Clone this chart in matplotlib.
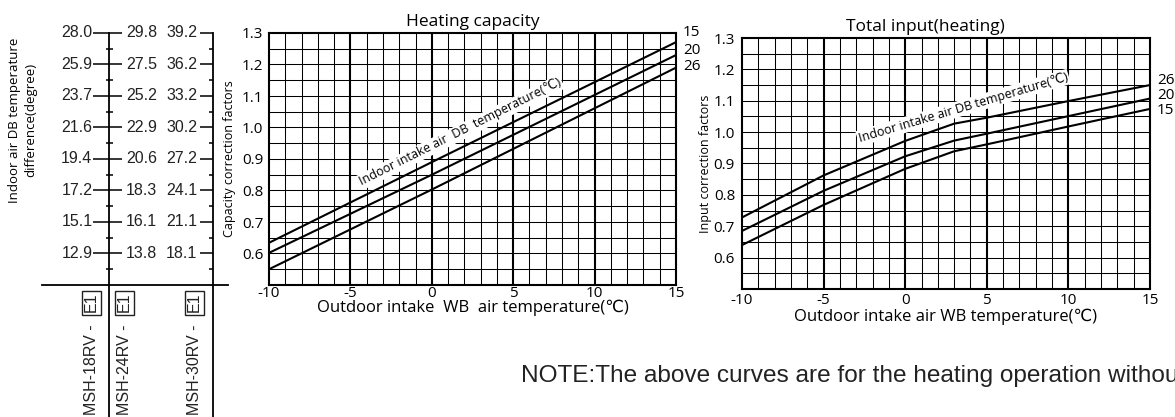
import numpy as np
import matplotlib
matplotlib.use("Agg")
import matplotlib.pyplot as plt
from matplotlib.transforms import blended_transform_factory

plt.rcParams['axes.unicode_minus'] = False

# --- data ---
factors = [1.3, 1.2, 1.1, 1.0, 0.9, 0.8, 0.7, 0.6]
minor_factors = [1.25, 1.15, 1.05, 0.95, 0.85, 0.75, 0.65, 0.55]
diff_18 = ["28.0", "25.9", "23.7", "21.6", "19.4", "17.2", "15.1", "12.9"]
diff_24 = ["29.8", "27.5", "25.2", "22.9", "20.6", "18.3", "16.1", "13.8"]
diff_30 = ["39.2", "36.2", "33.2", "30.2", "27.2", "24.1", "21.1", "18.1"]
models = ["MSH-18RV -", "MSH-24RV -", "MSH-30RV -"]

hc_temp = [-10, 0, 15]
hc_15 = [0.634, 0.890, 1.271]
hc_20 = [0.602, 0.850, 1.230]
hc_26 = [0.550, 0.803, 1.190]
hc_labels = ["15", "20", "26"]

ti_temp = [-10, -5, 0, 3, 5, 10, 15]
ti_26 = [0.728, 0.862, 0.972, 1.027, 1.046, 1.099, 1.150]
ti_20 = [0.685, 0.813, 0.923, 0.973, 0.995, 1.051, 1.107]
ti_15 = [0.640, 0.768, 0.883, 0.939, 0.961, 1.018, 1.074]
ti_labels = ["26", "20", "15"]

hum = ['Open Sans', 'DejaVu Sans']
ari = ['Liberation Sans', 'DejaVu Sans']

W, H = 1175, 417
fig = plt.figure(figsize=(W / 100, H / 100), dpi=100)

pos_hc = [269 / W, (H - 285) / H, 407 / W, 252 / H]
pos_ti = [742 / W, (H - 289) / H, 408 / W, 251 / H]


def grid_chart(ax, temps, curves, labels, label_y):
    ax.set_xlim(-10, 15)
    ax.set_ylim(0.5, 1.3)
    for x in range(-9, 15):
        ax.axvline(x, color='black', lw=1.5 if x % 5 == 0 else 0.75, zorder=1)
    for y in np.arange(0.55, 1.3, 0.05):
        ax.axhline(y, color='black', lw=0.75, zorder=1)
    for c in curves:
        ax.plot(temps, c, color='black', lw=1.5, zorder=3)
    for lbl, y in zip(labels, label_y):
        ax.annotate(lbl, xy=(15, y), xytext=(5, 0), textcoords='offset points',
                    ha='left', va='center', fontsize=11, family=hum,
                    annotation_clip=False)
    ax.set_xticks([-10, -5, 0, 5, 10, 15])
    ax.set_yticks(factors)
    ax.set_yticklabels([f"{v:.1f}" for v in factors])
    ax.tick_params(length=0, labelsize=11)
    for t in ax.get_xticklabels() + ax.get_yticklabels():
        t.set_family(hum)
    for s in ax.spines.values():
        s.set_linewidth(1.5)


# heating capacity
ax1 = fig.add_axes(pos_hc)
grid_chart(ax1, hc_temp, [hc_15, hc_20, hc_26], hc_labels, [1.30, 1.243, 1.195])
ax1.tick_params(axis='x', pad=1)
ax1.tick_params(axis='y', pad=4)
ax1.set_title("Heating capacity", fontsize=12.5, family=hum, pad=5)
ax1.set_xlabel("Outdoor intake  WB  air temperature(\u2103)", fontsize=12,
               family=hum, labelpad=-1)
ax1.set_ylabel("Capacity correction factors", fontsize=9, family=hum, labelpad=4)
ax1.text(1.77, 0.985, "Indoor intake air  DB  temperature(\u2103)", rotation=26.7,
         rotation_mode='anchor', ha='center', va='center', fontsize=9,
         family=hum, zorder=4,
         bbox=dict(facecolor='white', edgecolor='none', pad=1))

# total input
ax2 = fig.add_axes(pos_ti)
grid_chart(ax2, ti_temp, [ti_26, ti_20, ti_15], ti_labels, [1.164, 1.116, 1.068])
ax2.tick_params(axis='x', pad=3)
ax2.tick_params(axis='y', pad=5)
ax2.set_title("Total input(heating)", fontsize=12.5, family=hum, pad=5, x=0.45)
ax2.set_xlabel("Outdoor intake air WB temperature(\u2103)", fontsize=12,
               family=hum, labelpad=0)
ax2.set_ylabel("Input correction factors", fontsize=9, family=hum, labelpad=1)
ax2.text(3.55, 1.078, "Indoor intake air DB temperature(\u2103)", rotation=16.5,
         rotation_mode='anchor', ha='center', va='center', fontsize=9,
         family=hum, zorder=4,
         bbox=dict(facecolor='white', edgecolor='none', pad=1))

# nomogram on the left, sharing the capacity factor scale
b, h = pos_hc[1], pos_hc[3]
v_lo = 0.5 - b / h * 0.8
v_hi = 1.3 + (1 - b - h) / h * 0.8
ax0 = fig.add_axes([0, 0, 230 / W, 1])
ax0.set_xlim(0, 230)
ax0.set_ylim(v_lo, v_hi)
ax0.axis('off')

x1, x2 = 109, 212.5
for xv in (x1, x2):
    ax0.plot([xv, xv], [1.3, v_lo], color='black', lw=1.3, clip_on=False)
ax0.plot([42, 228], [0.5, 0.5], color='black', lw=1.3)
ax0.hlines(factors, x1 - 16, x1 + 13, color='black', lw=1.1)
ax0.hlines(minor_factors, x1 - 3.5, x1 + 3.5, color='black', lw=1.1)
ax0.hlines(factors, x2 - 12.5, x2, color='black', lw=1.1)
ax0.hlines(minor_factors, x2 - 3.5, x2, color='black', lw=1.1)
for v, a, bb, c in zip(factors, diff_18, diff_24, diff_30):
    ax0.text(92.5, v, a, ha='right', va='center', fontsize=11.5, family=ari, color='#222')
    ax0.text(126, v, bb, ha='left', va='center', fontsize=11.5, family=ari, color='#222')
    ax0.text(197, v, c, ha='right', va='center', fontsize=11.5, family=ari, color='#222')

tr = blended_transform_factory(ax0.transData, fig.transFigure)
for xm, m in zip([91.5, 124.5, 194.5], models):
    ax0.text(xm, 2 / H, m, rotation=90, ha='center', va='bottom', fontsize=11.5,
             family=ari, color='#222', transform=tr)
    ax0.text(xm, (H - 293) / H, "E1", rotation=90, ha='center', va='top',
             fontsize=11.5, family=ari, color='#222', transform=tr,
             bbox=dict(boxstyle='square,pad=0.15', facecolor='white',
                       edgecolor='#222', lw=1))

fig.text(23 / W, 1 - 120 / H, "Indoor air DB temperature\ndifference(degree)",
         rotation=90, ha='center', va='center', fontsize=9.5, family=hum,
         linespacing=1.3)

fig.text(521 / W, (H - 382) / H,
         "NOTE:The above curves are for the heating operation without",
         ha='left', va='baseline', fontsize=17.6, family=ari, color='#222')

fig.savefig("out.png", dpi=100)
